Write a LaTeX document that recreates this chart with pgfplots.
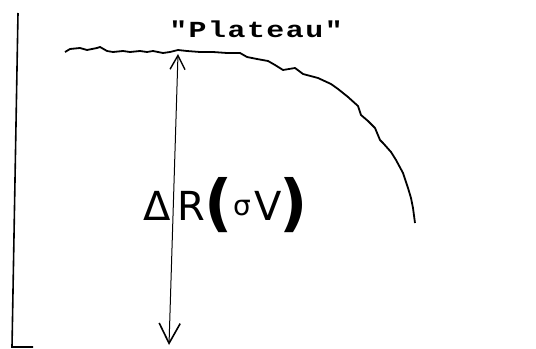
\documentclass[border=0pt]{standalone}
\usepackage{pgfplots}
\pgfplotsset{compat=1.18}
\usepackage{fontspec}
\usetikzlibrary{arrows.meta}
\newfontfamily\typewriter{Liberation Mono}[LetterSpace=5]
\newfontfamily\hand{DejaVu Sans}

% Sketch of the plateau curve (sheet coordinates, y grows downwards)
\pgfplotstableread{
x y
65 52
70 49
80 48
87 50
97 48
100 47
107 51
113 52
123 51
130 52
140 51
147 52
153 51
163 53
170 52
178 50
187 51
200 52
213 52
227 53
240 53
247 57
257 59
268 61
275 65
283 70
295 68
303 74
318 78
331 84
338 89
348 97
358 106
361 115
368 121
375 128
380 140
383 143
391 152
396 160
403 173
408 188
411 198
413 208
415 223
}\plateau

\begin{document}
\begin{tikzpicture}
\begin{axis}[
  scale only axis, width=536bp, height=349bp,
  xmin=0, xmax=536, ymin=0, ymax=349, y dir=reverse,
  axis lines=none, clip=false,
]
% keep the whole sheet in the picture
\addplot[draw=none] coordinates {(0,0) (536,349)};
% vertical axis with its short foot
\addplot[black, line width=1.6bp] coordinates {(18,13) (12,347) (33,347)};
% the curve
\addplot[black, line width=1.8bp, line join=round] table {\plateau};
% double-headed arrow marking the height of the plateau
\addplot[black, line width=1bp,
  {Straight Barb[length=14bp,width=15bp,line width=1.4bp]}-{Straight Barb[length=20bp,width=21bp,line width=1.6bp]}]
  coordinates {(178,54) (169,345)};
% labels
\node[anchor=base, inner sep=0pt] at (axis cs:256,37)
  {\scalebox{1.3}[1]{\typewriter\bfseries\fontsize{23bp}{23bp}\selectfont "Plateau"}};
\node[anchor=base, inner sep=0pt] at (axis cs:157,220) {\hand\fontsize{40bp}{40bp}\selectfont Δ};
\node[anchor=base, inner sep=0pt] at (axis cs:191,220) {\hand\fontsize{40bp}{40bp}\selectfont R};
\node[anchor=base, inner sep=0pt] at (axis cs:219,224) {\hand\bfseries\fontsize{62bp}{62bp}\selectfont (};
\node[anchor=base, inner sep=0pt] at (axis cs:242,215) {\hand\fontsize{28bp}{28bp}\selectfont σ};
\node[anchor=base, inner sep=0pt] at (axis cs:268,220) {\hand\fontsize{40bp}{40bp}\selectfont V};
\node[anchor=base, inner sep=0pt] at (axis cs:294,224) {\hand\bfseries\fontsize{62bp}{62bp}\selectfont )};
\end{axis}
\end{tikzpicture}
\end{document}
